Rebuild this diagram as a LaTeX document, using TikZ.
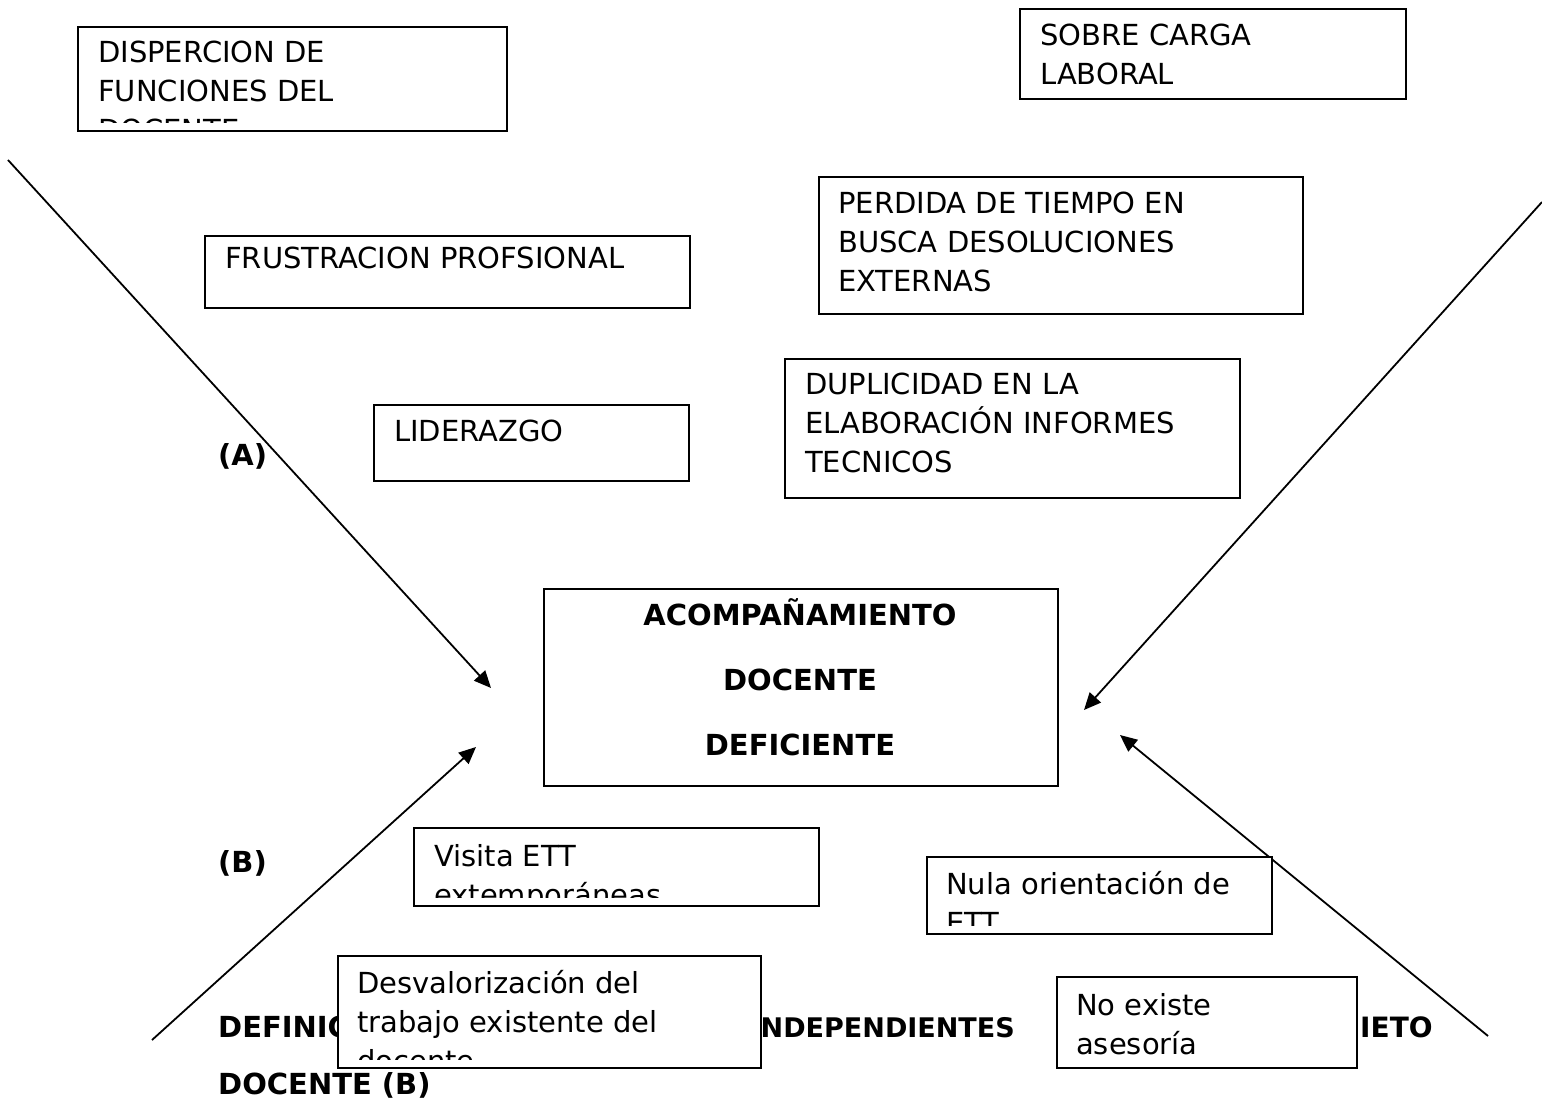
\documentclass[tikz,border=0pt]{standalone}
\usepackage{fontspec}
\setmainfont{DejaVu Sans}
\usetikzlibrary{arrows.meta}

\begin{document}
\begin{tikzpicture}[x=1pt,y=-1pt,
  caja/.style={draw,fill=white,line width=1.7pt,anchor=north west,inner sep=0pt},
  texto/.style={anchor=base west,align=left,inner sep=0pt,font=\fontsize{29}{39}\selectfont},
  negrita/.style={anchor=base west,inner sep=0pt,font=\fontsize{29}{35}\selectfont\bfseries},
  flecha/.style={line width=1.8pt,-{Triangle[length=17pt,width=15pt]}}]
\useasboundingbox (0,0) rectangle (1542,1099);

% titulo de abajo, tapado en parte por las cajas
\node[negrita] (def) at (218,1037) {DEFINICIÓN};
\node[negrita,anchor=base east,font=\fontsize{27}{35}\selectfont\bfseries] (indep) at (1015,1037) {INDEPENDIENTES};
\node[negrita,font=\fontsize{28}{35}\selectfont\bfseries] (ieto) at (1360,1037) {IETO};
\node[negrita] (doc) at (218,1094) {DOCENTE (B)};
\node[negrita] (la) at (218,465) {(A)};
\node[negrita] (lb) at (218,872) {(B)};

% flechas hacia el centro
\coordinate (a0) at (8,160);
\coordinate (a1) at (491,688);
\coordinate (b0) at (152,1040);
\coordinate (b1) at (476,747);
\coordinate (c0) at (1542,202);
\coordinate (c1) at (1084,710);
\coordinate (d0) at (1488,1036);
\coordinate (d1) at (1120,735);
\draw[flecha] (a0) -- (a1);
\draw[flecha] (b0) -- (b1);
\draw[flecha] (c0) -- (c1);
\draw[flecha] (d0) -- (d1);

% cajas
\node[caja,minimum width=429pt,minimum height=104pt] (disp) at (77,26) {};
\node[caja,minimum width=386pt,minimum height=90pt] (sobre) at (1019,8) {};
\node[caja,minimum width=485pt,minimum height=72pt] (frus) at (204,235) {};
\node[caja,minimum width=484pt,minimum height=137pt] (perd) at (818,176) {};
\node[caja,minimum width=315pt,minimum height=76pt] (lider) at (373,404) {};
\node[caja,minimum width=455pt,minimum height=139pt] (dupl) at (784,358) {};
\node[caja,minimum width=514pt,minimum height=197pt] (centro) at (543,588) {};
\node[caja,minimum width=405pt,minimum height=78pt] (visita) at (413,827) {};
\node[caja,minimum width=345pt,minimum height=77pt] (nula) at (926,856) {};
\node[caja,minimum width=423pt,minimum height=112pt] (desv) at (337,955) {};
\node[caja,minimum width=300pt,minimum height=91pt] (noex) at (1056,976) {};

% textos de las cajas (base = ultima linea)
\begin{scope}
  \clip (disp.north west) rectangle ([yshift=9pt]disp.south east);
  \node[texto] (disptxt) at (98,141) {DISPERCION DE\\FUNCIONES DEL\\DOCENTE};
\end{scope}
\node[texto] (sobretxt) at (1040,85) {SOBRE CARGA\\LABORAL};
\node[texto] (frustxt) at (225,268.5) {FRUSTRACION PROFSIONAL};
\node[texto] (perdtxt) at (838,291.5) {PERDIDA DE TIEMPO EN\\BUSCA DESOLUCIONES\\EXTERNAS};
\node[texto] (lidertxt) at (394,441.5) {LIDERAZGO};
\node[texto] (dupltxt) at (805,472.5) {DUPLICIDAD EN LA\\ELABORACIÓN INFORMES\\TECNICOS};
\node[negrita,anchor=base,align=center,font=\fontsize{29}{65}\selectfont\bfseries] (centrotxt) at (800,755.5) {ACOMPAÑAMIENTO\\DOCENTE\\DEFICIENTE};
\begin{scope}
  \clip (visita.north west) rectangle ([yshift=9pt]visita.south east);
  \node[texto] (visitatxt) at (434,905) {Visita ETT\\extemporáneas};
\end{scope}
\begin{scope}
  \clip (nula.north west) rectangle ([yshift=9pt]nula.south east);
  \node[texto] (nulatxt) at (946,933.5) {Nula orientación de\\ETT};
\end{scope}
\begin{scope}
  \clip (desv.north west) rectangle ([yshift=9pt]desv.south east);
  \node[texto] (desvtxt) at (357,1071) {Desvalorización del\\trabajo existente del\\docente};
\end{scope}
\node[texto] (noextxt) at (1076,1054) {No existe\\asesoría};
\end{tikzpicture}
\end{document}
